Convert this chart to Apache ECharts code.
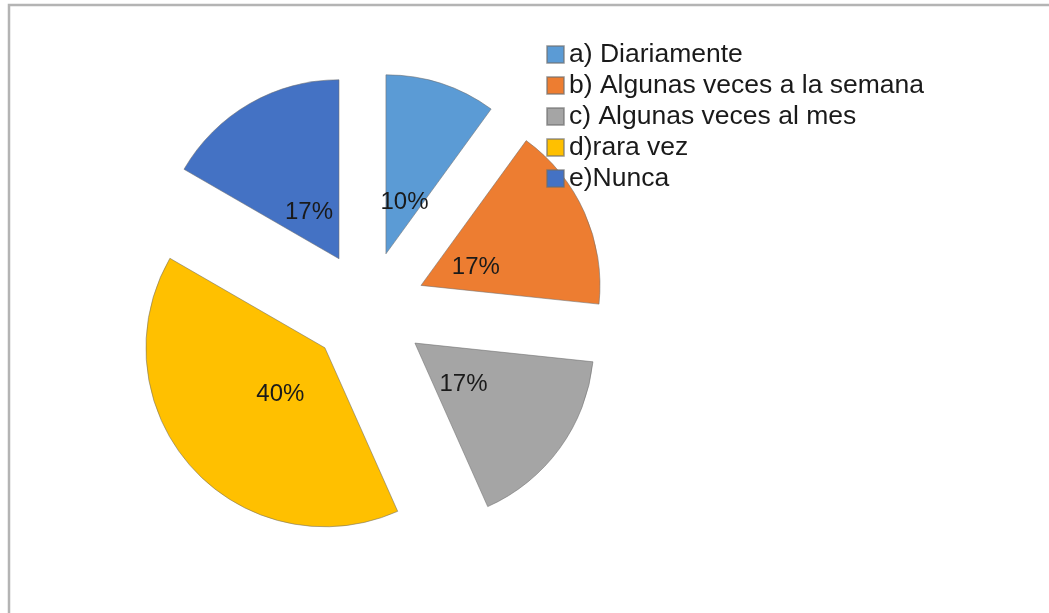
<!DOCTYPE html>
<html>
<head>
<meta charset="utf-8">
<script src="https://cdn.jsdelivr.net/npm/echarts@6/dist/echarts.min.js"></script>
<style>
  html, body { margin: 0; padding: 0; background: #fff; }
  #chart { width: 1049px; height: 613px; }
</style>
</head>
<body>
<div id="chart"></div>
<script>
// respuestas (n = 30)
var categories = ['a) Diariamente', 'b) Algunas veces a la semana', 'c) Algunas veces al mes', 'd)rara vez', 'e)Nunca']
var counts = [3, 5, 5, 12, 5]
var colors = ['#5B9BD5', '#ED7D31', '#A5A5A5', '#FFC000', '#4472C4']

var total = counts.reduce(function(s, v) { return s + v }, 0)

var chart = echarts.init(document.getElementById('chart'))

var sliceData = categories.map(function(name, i) {
  return {
    name: name,
    value: counts[i],
    selected: true,
    itemStyle: { color: colors[i] }
  }
})

var labelData = categories.map(function(name, i) {
  return { name: name, value: counts[i], selected: true }
})

chart.setOption({
  animation: false,
  color: colors,
  graphic: [
    {
      type: 'rect',
      shape: { x: 9, y: 5, width: 2000, height: 2000 },
      style: { fill: 'none', stroke: '#b4b4b4', lineWidth: 2.5 },
      silent: true
    }
  ],
  legend: {
    orient: 'vertical',
    left: 541,
    top: 36,
    itemWidth: 17,
    itemHeight: 17,
    itemGap: 4,
    icon: 'rect',
    selectedMode: false,
    data: categories,
    textStyle: {
      fontFamily: 'Liberation Sans, Arial, sans-serif',
      fontSize: 26.5,
      color: '#1a1a1a'
    }
  },
  series: [
    {
      name: 'slices',
      type: 'pie',
      center: [368, 309],
      radius: [0, 179],
      startAngle: 90,
      clockwise: true,
      selectedMode: 'multiple',
      selectedOffset: 58,
      silent: true,
      label: { show: false },
      labelLine: { show: false },
      itemStyle: { borderColor: 'rgba(110,110,110,0.55)', borderWidth: 1 },
      select: { itemStyle: { borderColor: 'rgba(110,110,110,0.55)', borderWidth: 1 } },
      emphasis: { disabled: true },
      data: sliceData
    },
    {
      // transparent copy that only carries the percentage labels
      name: 'labels',
      type: 'pie',
      center: [368, 315],
      radius: [0, 114],
      startAngle: 90,
      clockwise: true,
      selectedMode: 'multiple',
      selectedOffset: 58,
      avoidLabelOverlap: false,
      silent: true,
      itemStyle: { color: 'rgba(0,0,0,0)' },
      select: { itemStyle: { color: 'rgba(0,0,0,0)', borderWidth: 0 } },
      emphasis: { disabled: true },
      labelLine: { show: false },
      label: {
        show: true,
        position: 'inside',
        fontFamily: 'Liberation Sans, Arial, sans-serif',
        fontSize: 24,
        color: '#1a1a1a',
        formatter: function(p) {
          return Math.round(p.value * 100 / total) + '%'
        }
      },
      data: labelData
    }
  ]
})
</script>
</body>
</html>
